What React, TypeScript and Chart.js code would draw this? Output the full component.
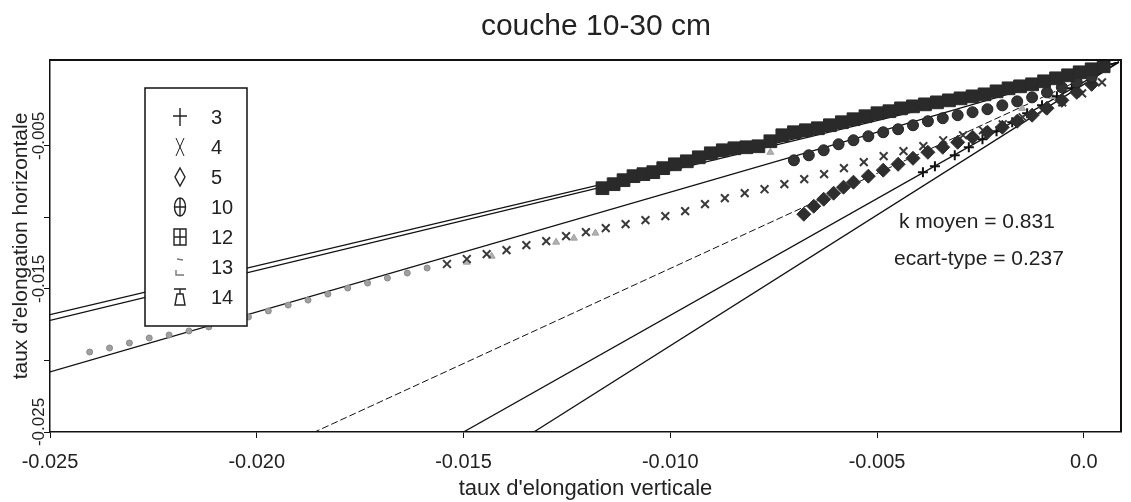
import React, { useEffect, useRef } from 'react';
import { Chart, registerables } from 'chart.js';

Chart.register(...registerables);

// ---------- text ----------
const chartTitle = 'couche 10-30 cm';
const xAxisTitle = "taux d'elongation verticale";
const yAxisTitle = "taux d'elongation horizontale";
const statLabels = ['k moyen = 0.831', 'ecart-type = 0.237'];

// ---------- axes ----------
const xMin = -0.025;
const xMax = 0.0009;
const yMin = -0.025;
const yMax = 0.001;
const xTickValues = [-0.025, -0.02, -0.015, -0.01, -0.005, 0];
const xTickLabels = ['-0.025', '-0.020', '-0.015', '-0.010', '-0.005', '0.0'];
const yTickValues = [-0.025, -0.02, -0.015, -0.01, -0.005];
const yTickLabels = ['-0.025', '', '-0.015', '', '-0.005'];

// ---------- series ----------
const seriesNames = ['3', '4', '5', '10', '12', '13', '14'];

const s3X = [-0.00389, -0.0036, -0.00312, -0.00278, -0.00245, -0.00211, -0.00173, -0.00137, -0.00101, -0.00065, -0.00029];
const s3Y = [-0.00684, -0.00643, -0.00566, -0.0051, -0.00454, -0.00398, -0.00335, -0.00272, -0.00217, -0.00154, -0.00098];

const s4X = [-0.0154, -0.01492, -0.01444, -0.01396, -0.01348, -0.013, -0.01252, -0.01204, -0.01156, -0.01108, -0.0106, -0.01012, -0.00964, -0.00916, -0.00868, -0.0082, -0.00772, -0.00724, -0.00676, -0.00628, -0.0058, -0.00532, -0.00484, -0.00436, -0.00388, -0.0034, -0.00292, -0.00244, -0.00196, -0.00148, -0.001, -0.00052, -0.00004, 0.00044];
const s4Y = [-0.01326, -0.01291, -0.01257, -0.01229, -0.01194, -0.01166, -0.01131, -0.01103, -0.01075, -0.01047, -0.01019, -0.00991, -0.00956, -0.00907, -0.00865, -0.0083, -0.00803, -0.00768, -0.00733, -0.00698, -0.00656, -0.00614, -0.00572, -0.00537, -0.00502, -0.00461, -0.00426, -0.00391, -0.00349, -0.003, -0.00251, -0.00196, -0.00133, -0.00056];

const s5X = [-0.00677, -0.00653, -0.00629, -0.00605, -0.00581, -0.00557, -0.00521, -0.00485, -0.00449, -0.00413, -0.00377, -0.00341, -0.00305, -0.00269, -0.00233, -0.00197, -0.00161, -0.00125, -0.00089, -0.00053, -0.00017, 0.00019];
const s5Y = [-0.00978, -0.00922, -0.00873, -0.00831, -0.00789, -0.00754, -0.00712, -0.0067, -0.00629, -0.00587, -0.00545, -0.0051, -0.00475, -0.0044, -0.00405, -0.0037, -0.00328, -0.00286, -0.00237, -0.00182, -0.00126, -0.0007];

const s10X = [-0.00701, -0.00665, -0.00629, -0.00593, -0.00557, -0.00521, -0.00485, -0.00449, -0.00413, -0.00377, -0.00341, -0.00305, -0.00269, -0.00233, -0.00197, -0.00161, -0.00125, -0.00089, -0.00053, -0.00017, 0.00019];
const s10Y = [-0.00601, -0.00566, -0.00531, -0.00489, -0.00461, -0.00433, -0.00405, -0.00384, -0.00356, -0.00328, -0.00307, -0.00286, -0.00265, -0.00244, -0.00217, -0.00189, -0.00161, -0.00126, -0.00091, -0.00056, -0.00021];

const s12X = [-0.01164, -0.01137, -0.01113, -0.01089, -0.01065, -0.01041, -0.01017, -0.00989, -0.0096, -0.00931, -0.00902, -0.00873, -0.00845, -0.00816, -0.00787, -0.00758, -0.00729, -0.00701, -0.00672, -0.00643, -0.00614, -0.00585, -0.00557, -0.00528, -0.00499, -0.0047, -0.00442, -0.00413, -0.00384, -0.00355, -0.00326, -0.00298, -0.00269, -0.0024, -0.00211, -0.00182, -0.00154, -0.00125, -0.00096, -0.00067, -0.00038, -0.0001, 0.00019, 0.00048];
const s12Y = [-0.00796, -0.00768, -0.0074, -0.00712, -0.00698, -0.00684, -0.00656, -0.00629, -0.00608, -0.0058, -0.00552, -0.00531, -0.00517, -0.0051, -0.00503, -0.00468, -0.00426, -0.00405, -0.00391, -0.00377, -0.00356, -0.00335, -0.00314, -0.00293, -0.00272, -0.00258, -0.00238, -0.00224, -0.0021, -0.00196, -0.00182, -0.00168, -0.00154, -0.0014, -0.00119, -0.00098, -0.00084, -0.0007, -0.00049, -0.00028, -0.00007, 0.00014, 0.00035, 0.00056];

const s13X = [-0.02404, -0.02356, -0.02308, -0.0226, -0.02212, -0.02164, -0.02116, -0.02068, -0.0202, -0.01972, -0.01924, -0.01876, -0.01828, -0.0178, -0.01732, -0.01684, -0.01636, -0.01588];
const s13Y = [-0.01941, -0.01913, -0.01878, -0.01843, -0.01822, -0.01794, -0.01766, -0.01731, -0.01696, -0.01654, -0.01613, -0.01578, -0.01536, -0.01494, -0.01459, -0.01424, -0.01389, -0.01354];

const s14X = [-0.01492, -0.01432, -0.01276, -0.01233, -0.01181, -0.00758, -0.00149, -0.00077];
const s14Y = [-0.01313, -0.01271, -0.01173, -0.01145, -0.0111, -0.00545, -0.00238, -0.00154];

// fitted lines: common point and far ends
const fitCommon = [0.00085, 0.00085];
const fitEndX = [-0.025, -0.025, -0.025, -0.0186, -0.015, -0.0133];
const fitEndY = [-0.0168, -0.0172, -0.0208, -0.025, -0.025, -0.025];

const FONT = '"Liberation Sans", Arial, Helvetica, sans-serif';

const pts = (xs: number[], ys: number[]) => xs.map((x, i) => ({ x, y: ys[i] }));

function drawGlyph(ctx: CanvasRenderingContext2D, name: string, cx: number, cy: number) {
  ctx.save();
  ctx.strokeStyle = '#222';
  ctx.lineWidth = 1.4;
  ctx.beginPath();
  switch (name) {
    case '3':
      ctx.moveTo(cx, cy - 9); ctx.lineTo(cx, cy + 9);
      ctx.moveTo(cx - 7, cy - 1); ctx.lineTo(cx + 7, cy - 1);
      break;
    case '4':
      ctx.lineWidth = 1;
      ctx.moveTo(cx - 4, cy - 9); ctx.lineTo(cx + 4, cy + 9);
      ctx.moveTo(cx + 4, cy - 9); ctx.lineTo(cx - 4, cy + 9);
      break;
    case '5':
      ctx.moveTo(cx, cy - 9); ctx.lineTo(cx + 5, cy); ctx.lineTo(cx, cy + 9); ctx.lineTo(cx - 5, cy); ctx.closePath();
      break;
    case '10':
      ctx.ellipse(cx, cy, 5.5, 9, 0, 0, Math.PI * 2);
      ctx.moveTo(cx, cy - 9); ctx.lineTo(cx, cy + 9);
      ctx.moveTo(cx - 5.5, cy); ctx.lineTo(cx + 5.5, cy);
      break;
    case '12':
      ctx.rect(cx - 6, cy - 8, 12, 16);
      ctx.moveTo(cx, cy - 8); ctx.lineTo(cx, cy + 8);
      ctx.moveTo(cx - 6, cy); ctx.lineTo(cx + 6, cy);
      break;
    case '13':
      ctx.strokeStyle = '#c4c4c4';
      ctx.moveTo(cx - 3, cy - 8); ctx.lineTo(cx + 3, cy - 7);
      ctx.moveTo(cx - 4, cy + 3); ctx.lineTo(cx - 4, cy + 8); ctx.lineTo(cx + 4, cy + 8);
      ctx.strokeStyle = '#777';
      break;
    case '14':
      ctx.moveTo(cx - 6, cy - 8); ctx.lineTo(cx + 6, cy - 8);
      ctx.moveTo(cx, cy - 8); ctx.lineTo(cx, cy - 3);
      ctx.moveTo(cx - 3, cy - 3); ctx.lineTo(cx + 3, cy - 3); ctx.lineTo(cx + 5, cy + 8); ctx.lineTo(cx - 5, cy + 8); ctx.closePath();
      break;
  }
  ctx.stroke();
  ctx.restore();
}

const decorPlugin = {
  id: 'decor',
  beforeDraw(chart: any) {
    const { ctx, width, height } = chart;
    ctx.save();
    ctx.fillStyle = '#fff';
    ctx.fillRect(0, 0, width, height);
    ctx.restore();
  },
  afterDraw(chart: any) {
    const { ctx, chartArea: a, scales } = chart;
    ctx.save();
    // top / right frame
    ctx.strokeStyle = '#111';
    ctx.lineWidth = 2;
    ctx.beginPath();
    ctx.moveTo(a.left, a.top);
    ctx.lineTo(a.right, a.top);
    ctx.lineTo(a.right, a.bottom);
    ctx.stroke();

    // title
    ctx.fillStyle = '#222';
    ctx.font = `30px ${FONT}`;
    ctx.textAlign = 'center';
    ctx.textBaseline = 'middle';
    ctx.fillText(chartTitle, 596, 27);

    // rotated y tick labels
    ctx.font = `17px ${FONT}`;
    const ys = scales.y;
    yTickValues.forEach((v, i) => {
      const lab = yTickLabels[i];
      if (!lab) return;
      const py = ys.getPixelForValue(v) - 10;
      ctx.save();
      ctx.translate(39, py);
      ctx.rotate(-Math.PI / 2);
      ctx.textAlign = 'center';
      ctx.textBaseline = 'middle';
      ctx.fillText(lab, 0, 0);
      ctx.restore();
    });

    // legend box
    ctx.fillStyle = '#fff';
    ctx.fillRect(145, 88, 102, 238);
    ctx.strokeStyle = '#111';
    ctx.lineWidth = 1.5;
    ctx.strokeRect(145, 88, 102, 238);
    ctx.font = `20px ${FONT}`;
    ctx.textAlign = 'left';
    ctx.textBaseline = 'middle';
    seriesNames.forEach((name, i) => {
      const cy = 117 + i * 30;
      drawGlyph(ctx, name, 180, cy);
      ctx.fillStyle = '#222';
      ctx.fillText(name, 211, cy + 1);
    });

    // statistics
    ctx.font = `21px ${FONT}`;
    ctx.fillStyle = '#222';
    ctx.fillText(statLabels[0], 899, 222);
    ctx.fillText(statLabels[1], 894, 259);
    ctx.restore();
  },
};

export default function App() {
  const ref = useRef<HTMLCanvasElement>(null);

  useEffect(() => {
    document.body.style.margin = '0';
    const canvas = ref.current;
    if (!canvas) return;

    const scatter = (label: string, data: any[], style: any) => ({
      type: 'scatter' as const,
      label,
      data,
      showLine: false,
      ...style,
    });

    const fitSets = fitEndX.map((ex, i) => ({
      type: 'scatter' as const,
      label: 'fit' + i,
      data: [
        { x: fitCommon[0], y: fitCommon[1] },
        { x: ex, y: fitEndY[i] },
      ],
      showLine: true,
      pointRadius: 0,
      borderColor: '#111',
      backgroundColor: '#111',
      borderWidth: i === 3 ? 1 : 1.3,
      borderDash: i === 3 ? [7, 3] : [],
      fill: false,
    }));

    const chart = new Chart(canvas, {
      type: 'scatter',
      data: {
        datasets: [
          scatter('12', pts(s12X, s12Y), { pointStyle: 'rect', pointRadius: 9, backgroundColor: '#2a2a2a', borderColor: '#2a2a2a', borderWidth: 1 }),
          scatter('10', pts(s10X, s10Y), { pointStyle: 'circle', pointRadius: 5.5, backgroundColor: '#333', borderColor: '#222', borderWidth: 1 }),
          scatter('5', pts(s5X, s5Y), { pointStyle: 'rectRot', pointRadius: 7, backgroundColor: '#2e2e2e', borderColor: '#2e2e2e', borderWidth: 1 }),
          scatter('3', pts(s3X, s3Y), { pointStyle: 'cross', pointRadius: 5, backgroundColor: '#111', borderColor: '#111', borderWidth: 2 }),
          scatter('4', pts(s4X, s4Y), { pointStyle: 'crossRot', pointRadius: 5.5, backgroundColor: '#3a3a3a', borderColor: '#3a3a3a', borderWidth: 2 }),
          scatter('14', pts(s14X, s14Y), { pointStyle: 'triangle', pointRadius: 4, backgroundColor: '#b0b0b0', borderColor: '#a0a0a0', borderWidth: 1 }),
          scatter('13', pts(s13X, s13Y), { pointStyle: 'circle', pointRadius: 3, backgroundColor: '#a0a0a0', borderColor: '#8a8a8a', borderWidth: 1 }),
          ...fitSets,
        ],
      },
      options: {
        responsive: false,
        animation: false,
        devicePixelRatio: 1,
        layout: { padding: { top: 60, right: 2, left: 0, bottom: 0 } },
        plugins: {
          legend: { display: false },
          title: { display: false },
          tooltip: { enabled: false },
        },
        scales: {
          x: {
            type: 'linear',
            min: xMin,
            max: xMax,
            afterBuildTicks: (s: any) => {
              s.ticks = xTickValues.map((v) => ({ value: v }));
            },
            afterFit: (s: any) => {
              s.height = 70;
              s.paddingRight = 0;
            },
            ticks: {
              callback: (_v: any, i: number) => xTickLabels[i],
              color: '#222',
              font: { size: 20, family: FONT },
              padding: 12,
              maxRotation: 0,
              autoSkip: false,
              includeBounds: false,
            },
            grid: { drawOnChartArea: false, drawTicks: true, tickLength: 6, color: '#111', lineWidth: 1 },
            border: { display: true, color: '#111', width: 1.5 },
            title: { display: true, text: xAxisTitle, color: '#222', font: { size: 22, family: FONT }, padding: { top: 0, bottom: 0 } },
          },
          y: {
            type: 'linear',
            min: yMin,
            max: yMax,
            afterBuildTicks: (s: any) => {
              s.ticks = yTickValues.map((v) => ({ value: v }));
            },
            afterFit: (s: any) => {
              s.width = 50;
            },
            ticks: {
              callback: (_v: any, i: number) => yTickLabels[i],
              color: 'rgba(0,0,0,0)',
              font: { size: 17, family: FONT },
              autoSkip: false,
              includeBounds: false,
            },
            grid: { drawOnChartArea: false, drawTicks: true, tickLength: 6, color: '#111', lineWidth: 1 },
            border: { display: true, color: '#111', width: 1.5 },
            title: { display: true, text: yAxisTitle, color: '#222', font: { size: 21, family: FONT }, padding: { top: 9, bottom: 0 } },
          },
        },
      },
      plugins: [decorPlugin],
    } as any);

    return () => chart.destroy();
  }, []);

  return (
    <div style={{ position: 'fixed', left: 0, top: 0, width: 1131, height: 502, background: '#fff' }}>
      <canvas ref={ref} width={1131} height={502} style={{ display: 'block', width: 1131, height: 502 }} />
    </div>
  );
}
